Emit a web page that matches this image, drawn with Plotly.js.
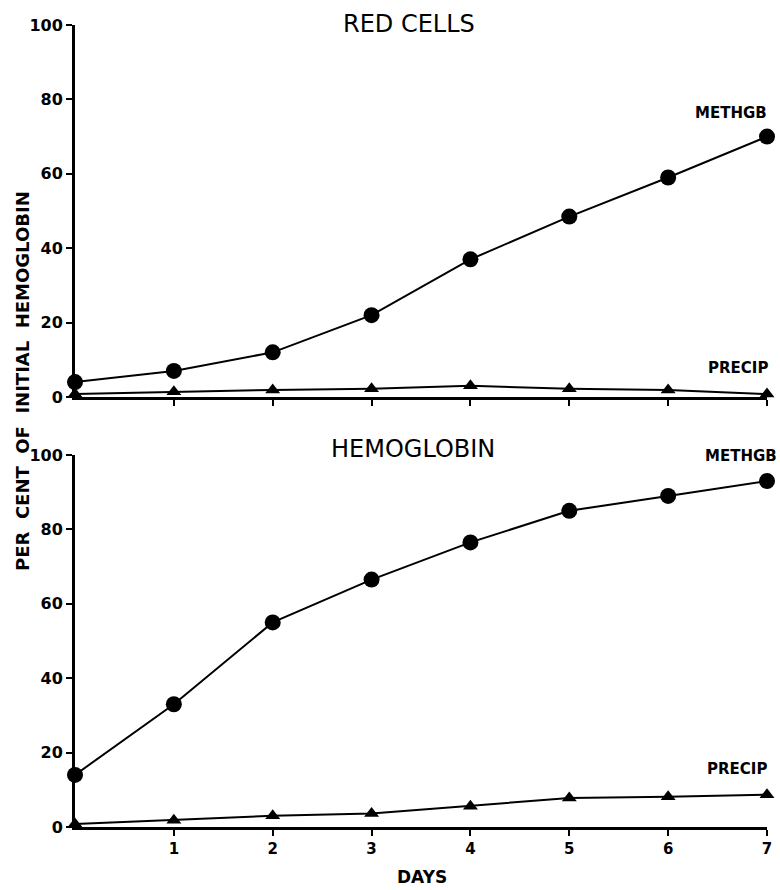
<!DOCTYPE html>
<html>
<head>
<meta charset="utf-8">
<script src="https://cdn.plot.ly/plotly-3.0.1.min.js"></script>
<style>html,body{margin:0;padding:0;background:#fff;}#chart{width:780px;height:890px;}</style>
</head>
<body>
<div id="chart"></div>
<script>
// Data
const days = [0, 1, 2, 3, 4, 5, 6, 7];
const redCellsMethgb = [4, 7, 12, 22, 37, 48.5, 59, 70];
const redCellsPrecip = [0.8, 1.4, 1.9, 2.2, 3, 2.2, 1.9, 0.8];
const hemoglobinMethgb = [14, 33, 55, 66.5, 76.5, 85, 89, 93];
const hemoglobinPrecip = [0.8, 1.8, 3, 3.6, 5.6, 7.8, 8.1, 8.7];
const xTickVals = [1, 2, 3, 4, 5, 6, 7];
const xTickText = ['1', '2', '3', '4', '5', '6', '7'];
const yTickVals = [0, 20, 40, 60, 80, 100];
const yTickText = ['0', '20', '40', '60', '80', '100'];

const W = 780, H = 890;
const M = {l: 75, r: 13, t: 25, b: 63};
const pw = W - M.l - M.r, ph = H - M.t - M.b;
const px = x => (x - M.l) / pw;
const py = y => (H - M.b - y) / ph;

const boldFont = {family: 'DejaVu Sans', size: 15, color: '#000', weight: 'bold'};

function line(x, y, xa, ya, sym, size) {
  return {
    x: x, y: y, xaxis: xa, yaxis: ya, type: 'scatter', mode: 'lines+markers',
    line: {color: '#000', width: 2},
    marker: {symbol: sym, size: size, color: '#000'},
    cliponaxis: false, showlegend: false, hoverinfo: 'skip'
  };
}

const traces = [
  line(days, redCellsMethgb, 'x', 'y', 'circle', 16),
  line(days, redCellsPrecip, 'x', 'y', 'triangle-up', 13),
  line(days, hemoglobinMethgb, 'x2', 'y2', 'circle', 16),
  line(days, hemoglobinPrecip, 'x2', 'y2', 'triangle-up', 13)
];

const xBase = {
  range: [0, 7], tickvals: xTickVals, ticktext: xTickText,
  ticks: 'outside', ticklen: 6, tickwidth: 2, tickcolor: '#000',
  showline: true, linewidth: 3, linecolor: '#000',
  showgrid: false, zeroline: false, fixedrange: true,
  tickfont: {family: 'DejaVu Sans', size: 15, color: '#000', weight: 'bold'}
};
const yBase = {
  range: [0, 100], tickvals: yTickVals, ticktext: yTickText,
  ticks: 'outside', ticklen: 6, tickwidth: 2, tickcolor: '#000',
  showline: true, linewidth: 3, linecolor: '#000',
  showgrid: false, zeroline: false, fixedrange: true,
  tickfont: {family: 'DejaVu Sans', size: 16, color: '#000', weight: 'bold'}
};

function ann(text, x, y, font, extra) {
  return Object.assign({text: text, x: px(x), y: py(y), xref: 'paper', yref: 'paper',
    xanchor: 'center', yanchor: 'middle', showarrow: false, font: font}, extra || {});
}

const titleFont = {family: 'DejaVu Sans', size: 24, color: '#000'};
const layout = {
  width: W, height: H, margin: M,
  paper_bgcolor: '#fff', plot_bgcolor: '#fff', showlegend: false,
  xaxis: Object.assign({}, xBase, {anchor: 'y', domain: [0, 1], showticklabels: false}),
  yaxis: Object.assign({}, yBase, {anchor: 'x', domain: [py(397), 1]}),
  xaxis2: Object.assign({}, xBase, {anchor: 'y2', domain: [0, 1]}),
  yaxis2: Object.assign({}, yBase, {anchor: 'x2', domain: [0, py(455)]}),
  annotations: [
    ann('RED CELLS', 409, 24, titleFont),
    ann('HEMOGLOBIN', 413, 449, titleFont),
    ann('METHGB', 731, 113, boldFont),
    ann('PRECIP', 738, 368, boldFont),
    ann('METHGB', 741, 456, boldFont),
    ann('PRECIP', 737, 769, boldFont),
    ann('PER&nbsp;&nbsp;CENT&nbsp;&nbsp;OF&nbsp;&nbsp;INITIAL&nbsp;&nbsp;HEMOGLOBIN', 22, 381,
        {family: 'DejaVu Sans', size: 18, color: '#000', weight: 'bold'}, {textangle: -90}),
    ann('DAYS', 422, 877, {family: 'DejaVu Sans', size: 17, color: '#000', weight: 'bold'})
  ]
};

Plotly.newPlot('chart', traces, layout, {displayModeBar: false, staticPlot: true});
</script>
</body>
</html>
